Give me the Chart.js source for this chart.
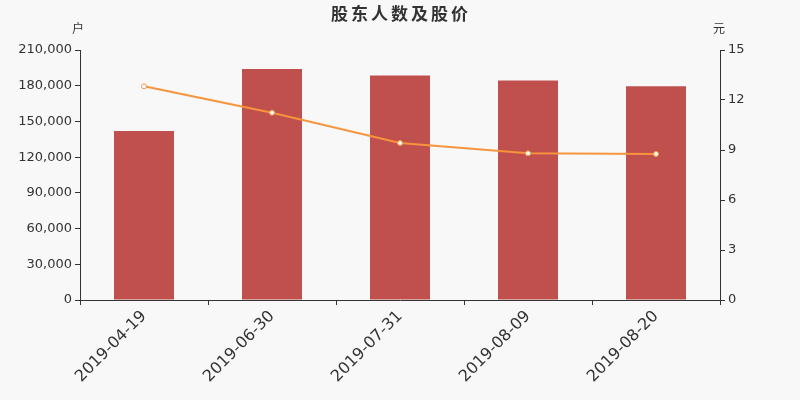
<!DOCTYPE html>
<html>
<head>
<meta charset="utf-8">
<script src="https://cdn.jsdelivr.net/npm/chart.js@4/dist/chart.umd.min.js"></script>
<style>
  html, body { margin: 0; padding: 0; background: #f8f8f8; }
  #wrap { width: 800px; height: 400px; }
</style>
</head>
<body>
<div id="wrap"><canvas id="chart"></canvas></div>
<script>
const dates = ['2019-04-19', '2019-06-30', '2019-07-31', '2019-08-09', '2019-08-20'];
const holders = [142000, 194000, 188600, 184400, 179500];
const prices = [12.82, 11.24, 9.42, 8.80, 8.76];

const titleText = '股东人数及股价';
const leftUnit = '户';
const rightUnit = '元';

const axisColor = '#333333';
const fontFamily = '"DejaVu Sans", "Noto Sans CJK SC", sans-serif';

const headerPlugin = {
    id: 'header',
    afterDraw(chart) {
        const ctx = chart.ctx;
        const area = chart.chartArea;
        ctx.save();
        ctx.fillStyle = axisColor;
        ctx.textAlign = 'center';
        ctx.textBaseline = 'middle';
        ctx.font = 'bold 17px "Noto Sans CJK SC", sans-serif';
        ctx.letterSpacing = '3px';
        ctx.fillText(titleText, 401, 14);
        ctx.letterSpacing = '0px';
        ctx.font = '12px "Noto Sans CJK SC", sans-serif';
        ctx.fillText(leftUnit, area.left - 2, 28);
        ctx.fillText(rightUnit, area.right - 1, 28);
        ctx.restore();
    }
};

const ctx = document.getElementById('chart').getContext('2d');

let chart = new Chart(ctx, {
    data: {
        labels: dates,
        datasets: [{
            type: 'line',
            label: '股价',
            data: prices,
            yAxisID: 'y1',
            borderColor: '#f7943c',
            borderWidth: 2,
            backgroundColor: '#ffffff',
            pointBorderColor: '#f7943c',
            pointBackgroundColor: '#ffffff',
            pointBorderWidth: 1,
            pointRadius: 2.5,
            tension: 0,
            fill: false,
            order: 0
        }, {
            type: 'bar',
            label: '股东人数',
            data: holders,
            yAxisID: 'y',
            backgroundColor: '#c0504e',
            barPercentage: 60 / 128,
            categoryPercentage: 1,
            order: 1
        }]
    },
    options: {
        responsive: true,
        maintainAspectRatio: false,
        animation: false,
        layout: {
            padding: { top: 50, left: 0, right: 0, bottom: 0 }
        },
        plugins: {
            legend: { display: false },
            title: { display: false },
            tooltip: { enabled: false }
        },
        scales: {
            x: {
                offset: true,
                afterFit: s => { s.height = 100; },
                grid: {
                    offset: true,
                    drawOnChartArea: false,
                    drawTicks: true,
                    tickLength: 5,
                    color: axisColor
                },
                border: { display: true, color: axisColor, width: 1 },
                ticks: {
                    color: axisColor,
                    font: { family: fontFamily, size: 16 },
                    maxRotation: 45,
                    minRotation: 45,
                    padding: 2,
                    autoSkip: false
                }
            },
            y: {
                position: 'left',
                min: 0,
                max: 210000,
                afterFit: s => { s.width = 80; },
                grid: {
                    drawOnChartArea: false,
                    drawTicks: true,
                    tickLength: 5,
                    color: axisColor
                },
                border: { display: true, color: axisColor, width: 1 },
                ticks: {
                    stepSize: 30000,
                    color: axisColor,
                    padding: 3,
                    font: { family: fontFamily, size: 13 },
                    callback: v => v.toLocaleString('en-US')
                }
            },
            y1: {
                position: 'right',
                min: 0,
                max: 15,
                afterFit: s => { s.width = 80; },
                grid: {
                    drawOnChartArea: false,
                    drawTicks: true,
                    tickLength: 5,
                    color: axisColor
                },
                border: { display: true, color: axisColor, width: 1 },
                ticks: {
                    stepSize: 3,
                    color: axisColor,
                    padding: 3,
                    font: { family: fontFamily, size: 13 }
                }
            }
        }
    },
    plugins: [headerPlugin]
});
</script>
</body>
</html>
